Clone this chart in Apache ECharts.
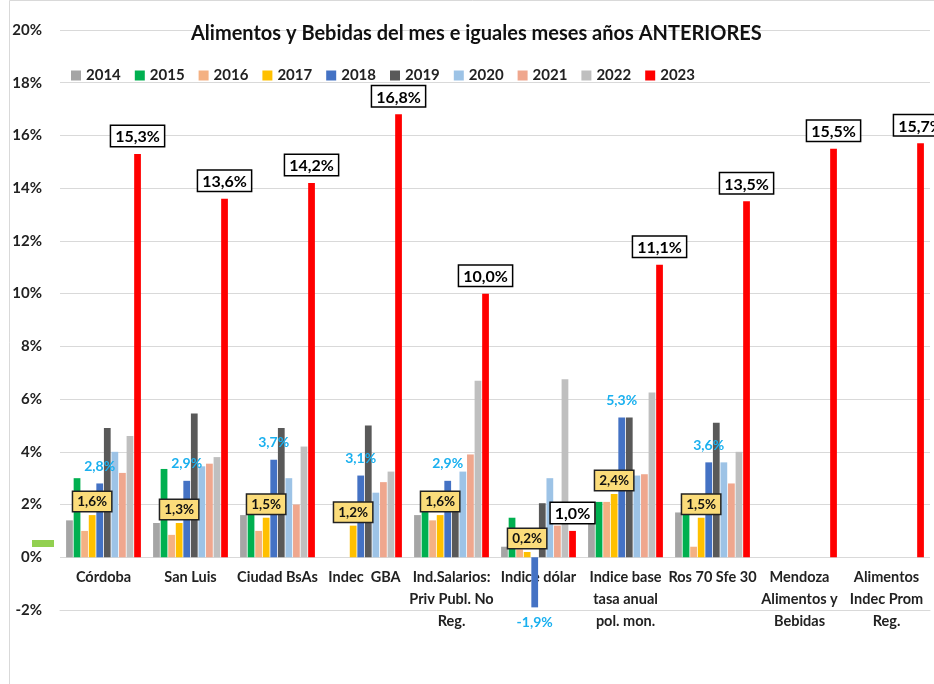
<!DOCTYPE html>
<html>
<head>
<meta charset="utf-8">
<script src="https://cdn.jsdelivr.net/npm/echarts@6/dist/echarts.min.js"></script>
<style>
  html, body { margin: 0; padding: 0; background: #fff; }
  #chart { width: 934px; height: 684px; }
</style>
</head>
<body>
<div id="chart"></div>
<script>
// categories and values (percent)
const categories = [
  'Córdoba', 'San Luis', 'Ciudad BsAs', 'Indec  GBA',
  'Ind.Salarios:\nPriv Publ. No\nReg.', 'Indice dólar',
  'Indice base\ntasa anual\npol. mon.', 'Ros 70 Sfe 30',
  'Mendoza\nAlimentos y\nBebidas', 'Alimentos\nIndec Prom\nReg.'
]
const years = ['2014', '2015', '2016', '2017', '2018', '2019', '2020', '2021', '2022', '2023']

const v2014 = [1.4, 1.3, 1.6, null, 1.6, 0.4, 1.3, 1.7, null, null]
const v2015 = [3.0, 3.35, 1.7, null, 1.8, 1.5, 2.1, 1.8, null, null]
const v2016 = [1.0, 0.85, 1.0, null, 1.4, 0.3, 2.1, 0.4, null, null]
const v2017 = [1.6, 1.3, 1.5, 1.2, 1.6, 0.2, 2.4, 1.5, null, null]
const v2018 = [2.8, 2.9, 3.7, 3.1, 2.9, -1.9, 5.3, 3.6, null, null]
const v2019 = [4.9, 5.45, 4.9, 5.0, 1.75, 2.05, 5.3, 5.1, null, null]
const v2020 = [4.0, 3.45, 3.0, 2.45, 3.25, 3.0, 3.1, 3.6, null, null]
const v2021 = [3.2, 3.55, 2.0, 2.85, 3.9, 1.2, 3.15, 2.8, null, null]
const v2022 = [4.6, 3.8, 4.2, 3.25, 6.7, 6.75, 6.25, 4.0, null, null]
const v2023 = [15.3, 13.6, 14.2, 16.8, 10.0, 1.0, 11.1, 13.5, 15.5, 15.7]

const yTicks = { min: -2, max: 20, step: 2 }

const values = [v2014, v2015, v2016, v2017, v2018, v2019, v2020, v2021, v2022, v2023]
const colors = ['#a5a5a5', '#00b050', '#f4b183', '#ffc000', '#4472c4',
  '#595959', '#9dc3e6', '#efa78e', '#bfbfbf', '#ff0000']

const FONT = 'Lato, "Liberation Sans", sans-serif'
const pct = (v) => v.toFixed(1).replace('.', ',') + '%'

// label styles for the three labelled years
const labelStyles = {
  '2017': {
    show: true, position: 'top', distance: 4,
    fontFamily: FONT, fontWeight: 'bold', fontSize: 13.5, color: '#111',
    backgroundColor: '#fbdc7a', borderColor: '#222', borderWidth: 1.5,
    padding: [3, 4, 2, 4],
  },
  '2018': {
    show: true, position: 'top', distance: 10,
    fontFamily: FONT, fontWeight: 'bold', fontSize: 14, color: '#1ab0ef',
  },
  '2023': {
    show: true, position: 'top', distance: 8,
    fontFamily: FONT, fontWeight: 'bold', fontSize: 16, color: '#000',
    backgroundColor: '#fff', borderColor: '#000', borderWidth: 1.5,
    padding: [3, 4, 1, 4],
  },
}

const series = years.map((y, i) => ({
  name: y,
  type: 'bar',
  itemStyle: { color: colors[i] },
  data: values[i].map((v) => (v !== null && v < 0 && labelStyles[y])
    ? { value: v, label: { position: 'bottom', distance: 8 } }
    : v),
  label: labelStyles[y]
    ? Object.assign({ formatter: (p) => (p.value == null ? '' : pct(p.value)) }, labelStyles[y])
    : { show: false },
  barGap: '12%',
  barCategoryGap: '14%',
  z: 2,
}))
// red bars and their boxes on top
series[9].z = 4
series[3].z = 3

const chart = echarts.init(document.getElementById('chart'))
chart.setOption({
  animation: false,
  color: colors,
  title: {
    text: 'Alimentos y Bebidas del mes e iguales meses años ANTERIORES',
    left: 186, top: 19,
    textStyle: { fontFamily: FONT, fontWeight: 'bold', fontSize: 20, color: '#111' },
  },
  legend: {
    data: years,
    left: 66, top: 63,
    icon: 'rect', itemWidth: 10, itemHeight: 10, itemGap: 14,
    textStyle: { fontFamily: FONT, fontWeight: 'bold', fontSize: 15, color: '#222' },
  },
  grid: { left: 60, right: 4, top: 30, bottom: 74 },
  xAxis: {
    type: 'category',
    data: categories,
    // labels sit just under the 0% line, as in the original sheet
    axisLine: { onZero: false, lineStyle: { color: '#d9d9d9' } },
    axisTick: { show: false },
    axisLabel: {
      interval: 0, margin: -44,
      fontFamily: FONT, fontWeight: 'bold', fontSize: 14.5, color: '#222', lineHeight: 22,
    },
  },
  yAxis: {
    type: 'value',
    min: yTicks.min, max: yTicks.max, interval: yTicks.step,
    axisLine: { show: false },
    axisTick: { show: false },
    splitLine: { lineStyle: { color: '#d9d9d9' } },
    axisLabel: {
      margin: 18,
      formatter: (v) => v + '%',
      fontFamily: FONT, fontWeight: 'bold', fontSize: 15, color: '#222',
    },
  },
  graphic: [
    { type: 'rect', left: 7, top: -2, shape: { width: 940, height: 690 },
      style: { fill: 'none', stroke: '#d9d9d9', lineWidth: 1 }, silent: true },
    { type: 'rect', left: 32, top: 540, shape: { width: 22, height: 7 },
      style: { fill: '#92d050' }, silent: true },
  ],
  series,
})
</script>
</body>
</html>
